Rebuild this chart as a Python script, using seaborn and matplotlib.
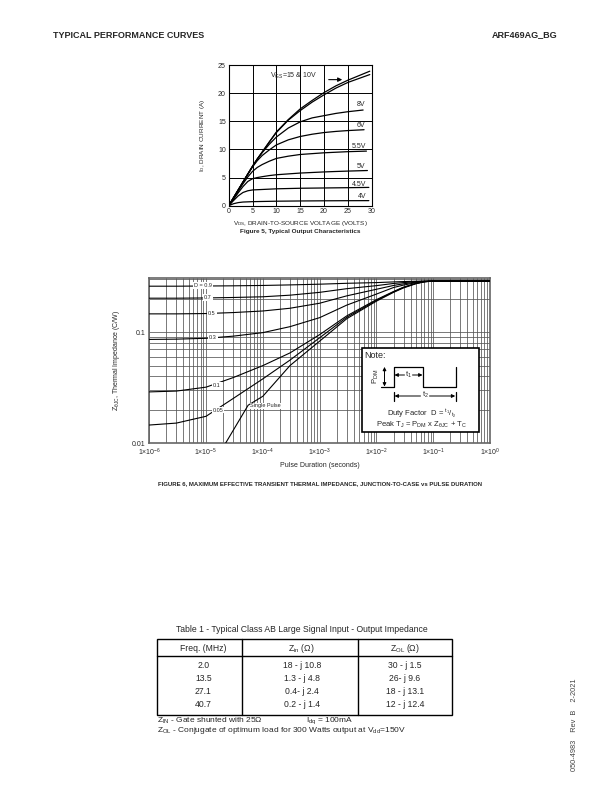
import matplotlib
matplotlib.use('Agg')
import matplotlib.pyplot as plt
from matplotlib.lines import Line2D
from matplotlib.patches import Rectangle, FancyArrowPatch
from matplotlib.ticker import LogLocator, NullFormatter, FixedLocator
import seaborn as sns

sns.set_style('white')
plt.rcParams.update({'font.family': ['Liberation Sans', 'DejaVu Sans'],
                     'mathtext.fontset': 'custom',
                     'mathtext.rm': 'Liberation Sans',
                     'mathtext.it': 'Liberation Sans:italic',
                     'mathtext.bf': 'Liberation Sans:bold',
                     'axes.linewidth': 0.8})

# ── Figure 5: output characteristics (VDS in V, ID in A) ──────────
vds_4v   = [0, 1, 2, 3, 5, 10, 15, 20, 25, 29.4]
id_4v    = [0, 0.35, 0.55, 0.65, 0.72, 0.8, 0.84, 0.87, 0.89, 0.9]
vds_45v  = [0, 1, 2, 3, 4, 5, 10, 15, 20, 25, 29.4]
id_45v   = [0, 0.9, 1.75, 2.35, 2.65, 2.8, 3.0, 3.1, 3.15, 3.2, 3.25]
vds_main = [0, 1, 2, 3, 4, 5, 6, 7, 8.5, 10, 12.5, 15, 17.5, 20, 22.5, 25]
id_5v    = [0, 1.1, 2.3, 3.4, 4.3, 4.8, 5.0, 5.15, 5.35, 5.5, 5.65, 5.8, 5.9, 6.0, 6.08, 6.15, 6.25]
id_55v   = [0, 1.3, 2.6, 3.9, 5.1, 6.1, 6.8, 7.3, 7.9, 8.4, 8.8, 9.1, 9.25, 9.4, 9.5, 9.6, 9.7]
id_6v    = [0, 1.4, 2.8, 4.2, 5.6, 6.9, 8.0, 8.9, 9.9, 10.8, 11.7, 12.3, 12.7, 13.0, 13.2, 13.35, 13.5]
id_8v    = [0, 1.4, 2.8, 4.2, 5.6, 7.0, 8.3, 9.4, 10.9, 12.2, 13.8, 14.9, 15.6, 16.0, 16.4, 16.7, 17.0]
id_10v   = [0, 1.4, 2.8, 4.2, 5.6, 7.0, 8.3, 9.5, 11.3, 13.0, 15.2, 16.9, 18.4, 19.7, 20.9, 21.9, 23.3]
id_15v   = [0, 1.4, 2.8, 4.2, 5.6, 7.0, 8.3, 9.5, 11.3, 13.1, 15.3, 17.2, 18.7, 20.1, 21.3, 22.3, 23.9]
vds_end  = {'5V': 29.1, '5.5V': 28.9, '6V': 28.4, '8V': 28.2, '10V': 29.6, '15V': 29.6}

# ── Figure 6: transient thermal impedance (s, C/W) ───────────────
tp      = [1e-6, 3e-6, 1e-5, 3e-5, 1e-4, 3e-4, 1e-3, 3e-3, 1e-2, 2e-2, 3e-2, 5e-2, 7e-2, 1e-1, 1]
z_d09   = [0.259, 0.259, 0.260, 0.261, 0.263, 0.266, 0.270, 0.275, 0.279, 0.283, 0.285, 0.287, 0.288, 0.288, 0.288]
z_d07   = [0.202, 0.202, 0.203, 0.205, 0.208, 0.215, 0.228, 0.246, 0.262, 0.274, 0.279, 0.285, 0.287, 0.288, 0.288]
z_d05   = [0.146, 0.146, 0.147, 0.150, 0.155, 0.164, 0.182, 0.212, 0.243, 0.263, 0.272, 0.282, 0.286, 0.288, 0.288]
z_d03   = [0.086, 0.0865, 0.088, 0.092, 0.099, 0.112, 0.135, 0.175, 0.220, 0.252, 0.265, 0.279, 0.285, 0.288, 0.288]
z_d01   = [0.029, 0.0295, 0.032, 0.039, 0.050, 0.065, 0.095, 0.140, 0.196, 0.232, 0.254, 0.275, 0.284, 0.288, 0.288]
z_d005  = [0.0146, 0.0152, 0.0175, 0.0253, 0.038, 0.056, 0.089, 0.136, 0.193, 0.230, 0.252, 0.274, 0.284, 0.288, 0.288]
tp_sp   = [2.2e-5, 5.5e-5, 1e-4, 3e-4, 1e-3, 3e-3, 1e-2, 2e-2, 3e-2, 5e-2, 7e-2, 1e-1, 1]
z_sp    = [0.010, 0.022, 0.0265, 0.050, 0.083, 0.132, 0.190, 0.228, 0.250, 0.273, 0.284, 0.288, 0.288]

# ── Table 1 ───────────────────────────────────────────────────────
freq = ['2.0', '13.5', '27.1', '40.7']
z_in = ['18 - j 10.8', '1.3 - j 4.8', '0.4- j 2.4', '0.2 - j 1.4']
z_ol = ['30 - j 1.5', '26- j 9.6', '18 - j 13.1', '12 - j 12.4']

W, H = 612, 792
fig = plt.figure(figsize=(W / 100, H / 100), dpi=100)

def fx(x): return x / W
def fy(y): return 1 - y / H

def fline(xs, ys, lw=0.9, color='black', z=6):
    fig.add_artist(Line2D([fx(v) for v in xs], [fy(v) for v in ys], lw=lw,
                          color=color, transform=fig.transFigure, zorder=z))

def farrow(x0, y0, x1, y1):
    fig.add_artist(FancyArrowPatch((fx(x0), fy(y0)), (fx(x1), fy(y1)),
                                   transform=fig.transFigure, arrowstyle='-|>',
                                   mutation_scale=5, lw=0.7, color='black',
                                   shrinkA=0, shrinkB=0, zorder=6))

# header
fig.text(fx(53), fy(35), 'TYPICAL PERFORMANCE CURVES', fontsize=6.5,
         fontweight='bold', va='center')
fig.text(fx(557), fy(35), 'ARF469AG_BG', fontsize=6.5, fontweight='bold',
         va='center', ha='right')

# ════════════════════════ Figure 5 ════════════════════════
ax1 = fig.add_axes([fx(228.7), fy(205.7), (371.7 - 228.7) / W, (205.7 - 65) / H])
curves1 = [(vds_4v, id_4v), (vds_45v, id_45v),
           (vds_main + [vds_end['5V']], id_5v), (vds_main + [vds_end['5.5V']], id_55v),
           (vds_main + [vds_end['6V']], id_6v), (vds_main + [vds_end['8V']], id_8v),
           (vds_main + [vds_end['10V']], id_10v), (vds_main + [vds_end['15V']], id_15v)]
for xs, ys in curves1:
    sns.lineplot(x=xs, y=ys, ax=ax1, color='black', lw=0.9, estimator=None)
ax1.set_xlim(0, 30)
ax1.set_ylim(0, 25)
ax1.set_xticks(range(0, 31, 5))
ax1.set_yticks(range(0, 26, 5))
ax1.grid(True, color='black', lw=0.7)
ax1.tick_params(length=0, labelsize=5, pad=2)
for s in ax1.spines.values():
    s.set_color('black'); s.set_linewidth(0.8)
ax1.set_xlabel(r'$\mathregular{V_{DS}}$, DRAIN-TO-SOURCE VOLTAGE (VOLTS)', fontsize=4.6, labelpad=2.5)
ax1.set_ylabel(r'$\mathregular{I_D}$, DRAIN CURRENT (A)', fontsize=4.6, labelpad=8)
for lab, vx, iy in [('8V', 27.7, 17.9), ('6V', 27.7, 14.2), ('5.5V', 27.4, 10.6),
                    ('5V', 27.7, 7.0), ('4.5V', 27.4, 3.85), ('4V', 28.0, 1.6)]:
    ax1.text(vx, iy, lab, fontsize=5, ha='center', va='center')
ax1.annotate('', xy=(24.4, 22.4), xytext=(20.4, 22.4),
             arrowprops=dict(arrowstyle='-|>', lw=0.8, color='black', mutation_scale=6))
ax1.text(13.6, 23.0, r'$\mathregular{V_{GS}}$=15 & 10V', fontsize=5, ha='center', va='center')
fig.text(fx(300), fy(231), 'Figure 5, Typical Output Characteristics', fontsize=4.6,
         fontweight='bold', ha='center', va='center')

# ════════════════════════ Figure 6 ════════════════════════
ax2 = fig.add_axes([fx(149.3), fy(443.3), (490 - 149.3) / W, (443.3 - 278.3) / H])
curves2 = [(tp, z_d09), (tp, z_d07), (tp, z_d05), (tp, z_d03),
           (tp, z_d01), (tp, z_d005), (tp_sp, z_sp)]
for xs, ys in curves2:
    sns.lineplot(x=xs, y=ys, ax=ax2, color='black', lw=0.8, estimator=None, zorder=3)
ax2.set_xscale('log')
ax2.set_yscale('log')
ax2.set_xlim(1e-6, 1)
ax2.set_ylim(0.01, 0.305)
ax2.xaxis.set_major_locator(FixedLocator([1e-6, 1e-5, 1e-4, 1e-3, 1e-2, 1e-1, 1]))
ax2.xaxis.set_minor_locator(LogLocator(base=10, subs=range(2, 10), numticks=20))
ax2.xaxis.set_minor_formatter(NullFormatter())
ax2.set_xticklabels([r'$\mathregular{1{\times}10^{-6}}$', r'$\mathregular{1{\times}10^{-5}}$',
                     r'$\mathregular{1{\times}10^{-4}}$', r'$\mathregular{1{\times}10^{-3}}$',
                     r'$\mathregular{1{\times}10^{-2}}$', r'$\mathregular{1{\times}10^{-1}}$',
                     r'$\mathregular{1{\times}10^{0}}$'])
ax2.yaxis.set_major_locator(FixedLocator([0.01, 0.1]))
ax2.yaxis.set_minor_locator(LogLocator(base=10, subs=range(2, 10), numticks=20))
ax2.yaxis.set_minor_formatter(NullFormatter())
ax2.set_yticklabels(['0.01', '0.1'])
ax2.grid(True, which='both', color='#555555', lw=0.55)
ax2.tick_params(which='both', length=0, labelsize=5, pad=2.5)
for s in ax2.spines.values():
    s.set_color('#666666'); s.set_linewidth(1.2)
ax2.set_xlabel('Pulse Duration (seconds)', fontsize=5, labelpad=3)
ax2.set_ylabel(r'$\mathregular{Z_{\theta JC}}$, Thermal Impedance (C/W)', fontsize=5, labelpad=7)
box = dict(facecolor='white', edgecolor='none', pad=0.6)
for lab, tx, zy in [('D = 0.9', 8.8e-6, 0.261), ('0.7', 1.08e-5, 0.204), ('0.5', 1.27e-5, 0.148),
                    ('0.3', 1.32e-5, 0.0888), ('0.1', 1.55e-5, 0.033), ('0.05', 1.64e-5, 0.0199),
                    ('Single Pulse', 1.12e-4, 0.0217)]:
    ax2.text(tx, zy, lab, fontsize=4, ha='center', va='center', bbox=box, zorder=4)

# note box
fig.add_artist(Rectangle((fx(361.7), fy(432.3)), (479.3 - 361.7) / W, (432.3 - 348.3) / H,
                         transform=fig.transFigure, facecolor='white', edgecolor='black',
                         lw=1.2, zorder=5))
fig.text(fx(364), fy(355), 'Note:', fontsize=6.5, va='center', zorder=6)
fline([381, 394.3, 394.3, 422.7, 422.7, 455.5, 455.5],
      [386.7, 386.7, 366.7, 366.7, 386.7, 386.7, 366.7])
farrow(384.5, 376.7, 384.5, 366.9)
farrow(384.5, 376.7, 384.5, 386.5)
fig.text(fx(375.5), fy(376.7), r'$\mathregular{P_{DM}}$', fontsize=5.5, rotation=90,
         ha='center', va='center', zorder=6)
farrow(404.5, 375, 394.5, 375)
farrow(412.5, 375, 422.5, 375)
fig.text(fx(408.5), fy(375), r'$\mathregular{t_1}$', fontsize=5.5, ha='center', va='center', zorder=6)
fline([394.3, 394.3], [391.5, 400.5])
fline([455.5, 455.5], [391.5, 400.5])
farrow(420.5, 396, 394.6, 396)
farrow(429.5, 396, 455.2, 396)
fig.text(fx(425), fy(395), r'$\mathregular{t_2}$', fontsize=5.5, ha='center', va='center', zorder=6)
fig.text(fx(421.7), fy(413.5), r'Duty Factor  D = $\mathregular{^{t_1}/_{t_2}}$', fontsize=5.5,
         ha='center', va='center', zorder=6)
fig.text(fx(421.7), fy(424.5), r'Peak $\mathregular{T_J}$ = $\mathregular{P_{DM}}$ x '
         r'$\mathregular{Z_{\theta JC}}$ + $\mathregular{T_C}$', fontsize=5.5,
         ha='center', va='center', zorder=6)

fig.text(fx(320), fy(484), 'FIGURE 6, MAXIMUM EFFECTIVE TRANSIENT THERMAL IMPEDANCE, '
         'JUNCTION-TO-CASE vs PULSE DURATION', fontsize=4.3, fontweight='bold',
         ha='center', va='center')

# ════════════════════════ Table 1 ════════════════════════
fig.text(fx(301.7), fy(629), 'Table 1 - Typical Class AB Large Signal Input - Output Impedance',
         fontsize=6.2, ha='center', va='center')
fig.add_artist(Rectangle((fx(157.3), fy(715)), (451.7 - 157.3) / W, (715 - 639) / H,
                         transform=fig.transFigure, facecolor='none', edgecolor='black', lw=1.0))
fline([157.3, 451.7], [655.7, 655.7], lw=1.0)
fline([241.7, 241.7], [639, 715], lw=1.0)
fline([358.3, 358.3], [639, 715], lw=1.0)
col_x = [203.3, 301.7, 405]
heads = ['Freq. (MHz)', r'$\mathregular{Z_{in}}$ (Ω)', r'$\mathregular{Z_{OL}}$ (Ω)']
for cx, h in zip(col_x, heads):
    fig.text(fx(cx), fy(648.3), h, fontsize=6.2, ha='center', va='center')
for ry, a, b, c in zip([665.7, 678.3, 691.7, 704.3], freq, z_in, z_ol):
    for cx, t in zip(col_x, [a, b, c]):
        fig.text(fx(cx), fy(ry), t, fontsize=6.2, ha='center', va='center')
fig.text(fx(157.3), fy(721), r'$\mathregular{Z_{IN}}$ - Gate shunted with 25Ω', fontsize=6, va='center')
fig.text(fx(306), fy(721), r'$\mathregular{I_{dq}}$ = 100mA', fontsize=6, va='center')
fig.text(fx(157.3), fy(731), r'$\mathregular{Z_{OL}}$ - Conjugate of optimum load for 300 Watts '
         r'output at $\mathregular{V_{dd}}$=150V', fontsize=6, va='center')

fig.text(fx(574), fy(725), '050-4983    Rev  B    2-2021', fontsize=5.3, rotation=90,
         ha='center', va='center', color='#444444')

fig.savefig('out.png', dpi=100)
